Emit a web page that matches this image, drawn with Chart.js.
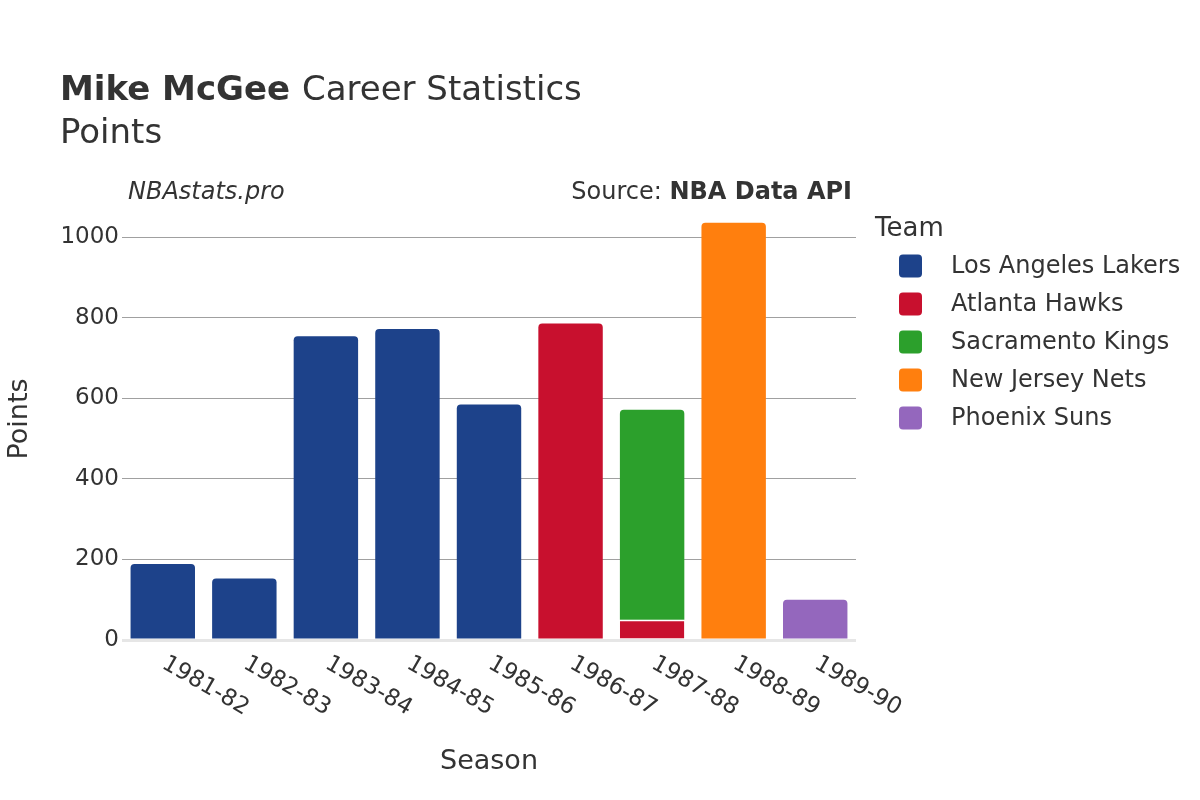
<!DOCTYPE html>
<html>
<head>
<meta charset="utf-8">
<title>Mike McGee Career Statistics</title>
<script src="https://cdn.jsdelivr.net/npm/chart.js@4.4.0/dist/chart.umd.min.js"></script>
<style>
html, body { margin: 0; padding: 0; background: #fff; }
#wrap { width: 1200px; height: 800px; }
</style>
</head>
<body>
<div id="wrap"><canvas id="careerChart" width="1200" height="800"></canvas></div>
<script>
// season labels and points per team (null = did not play for that team)
var seasons = ["1981-82", "1982-83", "1983-84", "1984-85", "1985-86", "1986-87", "1987-88", "1988-89", "1989-90"];
var lakersPts = [189, 153, 754, 772, 585, null, null, null, null];
var hawksPts = [null, null, null, null, null, 786, 50, null, null];
var kingsPts = [null, null, null, null, null, null, 522, null, null];
var netsPts = [null, null, null, null, null, null, null, 1036, null];
var sunsPts = [null, null, null, null, null, null, null, null, 100];
var teamNames = ["Los Angeles Lakers", "Atlanta Hawks", "Sacramento Kings", "New Jersey Nets", "Phoenix Suns"];
var teamColors = ["#1d428a", "#c8102e", "#2ca02c", "#ff7f0e", "#9467bd"];
var yTicks = [0, 200, 400, 600, 800, 1000];

var FONT = "'DejaVu Sans', sans-serif";
var TEXT = "#333333";

var seriesList = [lakersPts, hawksPts, kingsPts, netsPts, sunsPts];
var datasets = seriesList.map(function(vals, i) {
    return {
        label: teamNames[i],
        data: vals,
        backgroundColor: teamColors[i],
        borderColor: "#ffffff",
        // thin white gap only where a segment has another stacked on top
        borderWidth: function(c) {
            var stacked = kingsPts[c.dataIndex] != null && i === 1;
            return stacked ? {top: 1.5, left: 0, right: 0, bottom: 0} : 0;
        },
        borderRadius: 4,
        borderSkipped: "start",
        barPercentage: 0.79,
        categoryPercentage: 1.0
    };
});

// titles, rotated x labels, axis titles and legend
var decorPlugin = {
    id: "decor",
    afterDraw: function(chart) {
        var ctx = chart.ctx;
        var area = chart.chartArea;
        var xs = chart.scales.x;
        ctx.save();
        ctx.fillStyle = TEXT;
        ctx.textBaseline = "alphabetic";
        ctx.textAlign = "left";

        // title
        ctx.font = "bold 34px " + FONT;
        ctx.fillText("Mike McGee", 60, 100);
        var w = ctx.measureText("Mike McGee ").width;
        ctx.font = "34px " + FONT;
        ctx.fillText("Career Statistics", 60 + w, 100);
        ctx.fillText("Points", 60, 143);

        // site / source
        ctx.font = "italic 24px " + FONT;
        ctx.fillText("NBAstats.pro", 128, 199);
        ctx.textAlign = "right";
        ctx.font = "bold 24px " + FONT;
        ctx.fillText("NBA Data API", 852, 199);
        var bw = ctx.measureText("NBA Data API").width;
        ctx.font = "24px " + FONT;
        ctx.fillText("Source: ", 852 - bw, 199);

        // x tick labels, rotated 30deg
        ctx.font = "23px " + FONT;
        ctx.textAlign = "left";
        ctx.textBaseline = "middle";
        seasons.forEach(function(s, i) {
            var x = xs.getPixelForValue(i);
            ctx.save();
            ctx.translate(x + 1, area.bottom + 22);
            ctx.rotate(Math.PI / 6);
            ctx.fillText(s, 0, 0);
            ctx.restore();
        });

        // axis titles
        ctx.font = "27px " + FONT;
        ctx.textAlign = "center";
        ctx.textBaseline = "alphabetic";
        ctx.fillText("Season", (area.left + area.right) / 2, 769);
        ctx.save();
        ctx.translate(27, 419);
        ctx.rotate(-Math.PI / 2);
        ctx.fillText("Points", 0, 0);
        ctx.restore();

        // legend
        ctx.textAlign = "left";
        ctx.font = "26px " + FONT;
        ctx.fillText("Team", 875, 236);
        ctx.font = "24px " + FONT;
        ctx.textBaseline = "middle";
        chart.data.datasets.forEach(function(ds, i) {
            var cy = 266 + i * 38;
            ctx.fillStyle = ds.backgroundColor;
            ctx.beginPath();
            if (ctx.roundRect) ctx.roundRect(899, cy - 11.5, 23, 23, 4);
            else ctx.rect(899, cy - 11.5, 23, 23);
            ctx.fill();
            ctx.fillStyle = TEXT;
            ctx.fillText(ds.label, 951, cy + 1);
        });
        ctx.restore();
    }
};

var ctx1 = document.getElementById("careerChart").getContext("2d");
var careerChart = new Chart(ctx1, {
    type: "bar",
    data: {
        labels: seasons,
        datasets: datasets
    },
    options: {
        responsive: false,
        animation: false,
        devicePixelRatio: 1,
        layout: { padding: { left: 0, right: 344, top: 201, bottom: 0 } },
        plugins: {
            legend: { display: false },
            tooltip: { enabled: false },
            title: { display: false }
        },
        scales: {
            x: {
                stacked: true,
                grid: { display: false },
                border: { display: false },
                ticks: { display: false },
                afterFit: function(scale) { scale.height = 160; }
            },
            y: {
                stacked: true,
                min: 0,
                max: 1090,
                border: { display: false },
                grid: {
                    drawTicks: false,
                    color: function(c) { return c.tick && c.tick.value === 0 ? "#e6e6e6" : "#a0a0a0"; },
                    lineWidth: function(c) { return c.tick && c.tick.value === 0 ? 3 : 1; }
                },
                ticks: {
                    padding: 3,
                    color: TEXT,
                    font: { family: FONT, size: 23 },
                    callback: function(v) { return String(v); }
                },
                afterBuildTicks: function(scale) {
                    scale.ticks = yTicks.map(function(v) { return { value: v }; });
                },
                afterFit: function(scale) { scale.width = 122; }
            }
        }
    },
    plugins: [decorPlugin]
});
</script>
</body>
</html>
